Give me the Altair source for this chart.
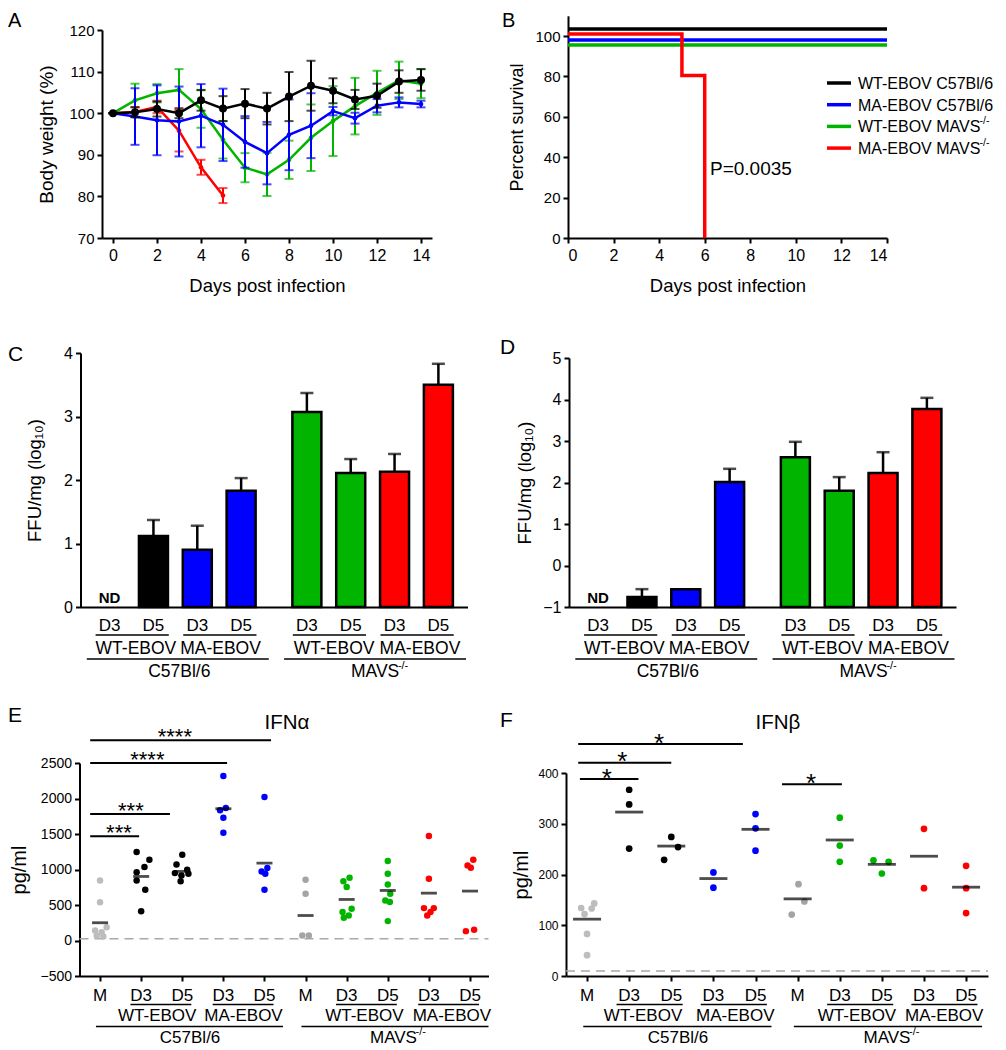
import altair as alt
import pandas as pd

FONT = "Liberation Sans"
W, H = 990, 1038
MARGIN = 8


def P(v):
    return v - MARGIN


BLACK = "#000000"
BLUE = "#0000ff"
GREEN = "#00b400"
RED = "#ff0000"
GRAY_LIGHT = "#bdbdbd"
GRAY_DARK = "#a4a4a4"
DASH_GRAY = "#a8a8a8"

# ---------------- Panel A: body weight ----------------
days = list(range(15))
wt_c57 = [100, 100.2, 101.0, 100.0, 103.1, 101.1, 102.3, 101.1, 104.0, 106.6, 105.4, 103.3, 104.2, 107.6, 108.0]
wt_c57_sem = [0, 1.2, 1.8, 1.2, 2.5, 3.0, 3.5, 3.8, 5.9, 6.0, 3.0, 2.3, 2.9, 2.7, 2.6]
ma_c57 = [100, 99.2, 98.3, 98.0, 99.4, 97.2, 93.1, 90.4, 94.8, 97.0, 100.5, 98.8, 101.8, 102.6, 102.2]
ma_c57_sem = [0, 6.8, 8.4, 8.4, 7.6, 8.7, 6.2, 7.5, 8.5, 7.8, 1.0, 1.3, 1.6, 1.2, 0.8]
wt_mavs = [100, 103.1, 104.8, 105.6, 101.0, 93.6, 86.9, 85.3, 88.8, 94.1, 98.1, 101.7, 104.9, 107.9, 107.1]
wt_mavs_sem = [0, 4.0, 2.2, 5.0, 4.5, 4.5, 3.5, 5.2, 4.6, 8.0, 8.4, 6.8, 5.3, 4.5, 3.5]
ma_mavs_days = [0, 1, 2, 3, 4, 5]
ma_mavs = [100, 100.3, 101.5, 95.8, 87.0, 80.2]
ma_mavs_sem = [0, 1.2, 1.5, 5.0, 1.8, 1.8]

# ---------------- Panel B: survival (curves drawn offset as in figure) ----------------
surv_names = ["WT-EBOV C57Bl/6", "MA-EBOV C57Bl/6", "WT-EBOV MAVS", "MA-EBOV MAVS"]
surv_sup = [False, False, True, True]
surv_colors = [BLACK, BLUE, GREEN, RED]
surv_days = [[0, 14], [0, 14], [0, 14], [0, 5, 6]]
surv_pct = [[103.5, 103.5], [98, 98], [95.5, 95.5], [101, 80.5, 0]]

# ---------------- Panels C & D: FFU/mg ----------------
ffu_ticks = ["D3", "D5", "D3", "D5", "D3", "D5", "D3", "D5"]
ffu_colors = [BLACK, BLACK, BLUE, BLUE, GREEN, GREEN, RED, RED]
ffu_c_mean = [None, 1.12, 0.90, 1.83, 3.07, 2.11, 2.13, 3.50]
ffu_c_sem = [None, 0.25, 0.38, 0.20, 0.30, 0.22, 0.28, 0.33]
ffu_d_mean = [None, -0.76, -0.57, 2.01, 2.61, 1.80, 2.23, 3.77]
ffu_d_sem = [None, 0.19, 0.0, 0.32, 0.37, 0.33, 0.50, 0.27]

# ---------------- Panels E & F: IFN ----------------
ifn_ticks = ["M", "D3", "D5", "D3", "D5", "M", "D3", "D5", "D3", "D5"]
ifn_colors = [GRAY_LIGHT, BLACK, BLACK, BLUE, BLUE, GRAY_DARK, GREEN, GREEN, RED, RED]
E_vals = [
    [846, 540, 141, 188, 118, 70, 56],
    [1245, 1137, 1034, 963, 846, 714, 413],
    [1208, 1071, 996, 949, 940, 916, 836],
    [2317, 1866, 1833, 1730, 1518],
    [2021, 1020, 973, 940, 714],
    [855, 658, 70, 70],
    [884, 836, 752, 447, 400, 352, 320],
    [1119, 940, 790, 658, 564, 541, 273],
    [1471, 870, 456, 456, 400, 352],
    [1137, 1058, 1025, 132, 150],
]
E_jitter = [
    [0, 0, -0.12, 0.16, 0.04, -0.08, 0.08],
    [-0.11, 0.2, 0.08, -0.11, -0.11, 0.1, 0],
    [0, -0.14, 0.12, -0.18, 0.15, -0.02, -0.04],
    [0, 0.06, -0.08, 0, 0],
    [0, 0.07, -0.07, 0.02, 0],
    [0, 0, -0.08, 0.08],
    [0.07, -0.08, 0, 0.12, -0.1, 0.05, -0.07],
    [0, 0, 0, 0.06, -0.06, 0.05, 0],
    [0, 0, -0.12, 0.12, 0.04, -0.04],
    [0.08, -0.06, 0.02, -0.1, 0.1],
]
E_mean = [250, 902, 973, 1856, 1090, 352, 578, 705, 667, 696]
E_limit = 25
E_sig_from = [-0.24, -0.24, -0.24, -0.24]
E_sig_to = [4.16, 3.09, 1.70, 0.95]
E_sig_y = [2820, 2500, 1780, 1470]
E_sig_txt = ["****", "****", "***", "***"]
E_sig_at = [1.82, 1.15, 0.75, 0.46]

F_vals = [
    [134, 122, 133, 143, 83, 41],
    [367, 338, 251],
    [274, 254, 229],
    [204, 174],
    [319, 291, 247],
    [181, 147, 121],
    [312, 257, 225],
    [228, 225, 202],
    [290, 173],
    [217, 173, 124],
]
F_jitter = [
    [-0.14, -0.06, 0.11, 0.17, 0, 0],
    [0, 0, 0], [0, 0.16, -0.17], [0, 0], [0, 0, 0],
    [0.02, 0.16, -0.14], [0, 0, 0], [-0.2, 0.16, 0], [0, 0], [0, 0, 0],
]
F_mean = [112, 323, 256, 192, 289, 152, 268, 220, 236, 175]
F_limit = 10
F_sig_from = [-0.21, -0.21, -0.17, 4.63]
F_sig_to = [3.70, 2.00, 1.22, 6.05]
F_sig_y = [457, 420, 388, 378]
F_sig_txt = ["*", "*", "*", "*"]
F_sig_at = [1.71, 0.84, 0.47, 5.32]


# ---------------- helpers ----------------
def axis(**kw):
    base = dict(grid=False, domainColor=BLACK, domainWidth=2, tickColor=BLACK, tickWidth=2,
                tickSize=5, labelColor=BLACK, labelFont=FONT, titleFont=FONT, titleColor=BLACK,
                titleFontWeight="normal", labelPadding=3)
    base.update(kw)
    return alt.Axis(**base)


def left_axis(xpage, **kw):
    return axis(orient="left", offset=-P(xpage), **kw)


def bottom_axis(ypage, **kw):
    return axis(orient="bottom", offset=P(ypage) - H, **kw)


def lin(domain, r0, r1):
    return alt.Scale(domain=domain, range=[P(r0), P(r1)], nice=False, zero=False)


def encoders(sx, ax, sy, ay):
    def X(f):
        return alt.X(f, type="quantitative", scale=sx, axis=ax)

    def Y(f):
        return alt.Y(f, type="quantitative", scale=sy, axis=ay)
    return X, Y


ONE = pd.DataFrame({"k": [0]})


def label(text, x, y, size, align="center", weight="normal", dx=0, dy=0):
    return alt.Chart(ONE).mark_text(text=text, fontSize=size, align=align, baseline="middle",
                                    fontWeight=weight, color=BLACK, dx=dx, dy=dy).encode(
        x=alt.value(max(P(x), 0)), y=alt.value(P(y) + 1))


MAVS_W = 2834 / 1000.0  # advance width of "MAVS" in em (Arial metrics)


def hier_labels(X, ys, tick_slots, tick_labels, pairs, pext, groups, gext, fs, sub_fs,
                pair_shift, group_shift):
    out = []
    dt = pd.DataFrame({"pos": tick_slots, "lab": tick_labels})
    out.append(alt.Chart(dt).mark_text(fontSize=fs, color=BLACK, baseline="middle").encode(
        x=X("pos"), y=alt.value(P(ys[0]) + 1), text="lab:N"))
    dp = pd.DataFrame({"a": [p[0] + pext[0] for p in pairs], "b": [p[1] + pext[1] for p in pairs],
                       "mid": [(p[0] + p[1]) / 2 + s for p, s in zip(pairs, pair_shift)],
                       "lab": [p[2] for p in pairs]})
    out.append(alt.Chart(dp).mark_rule(color=BLACK, strokeWidth=1.5).encode(
        x=X("a"), x2=alt.X2("b"), y=alt.value(P(ys[1]))))
    out.append(alt.Chart(dp).mark_text(fontSize=sub_fs, color=BLACK, baseline="middle").encode(
        x=X("mid"), y=alt.value(P(ys[2]) + 1), text="lab:N"))
    dg = pd.DataFrame({"a": [g[0] + gext[0] for g in groups], "b": [g[1] + gext[1] for g in groups]})
    out.append(alt.Chart(dg).mark_rule(color=BLACK, strokeWidth=1.5).encode(
        x=X("a"), x2=alt.X2("b"), y=alt.value(P(ys[3]))))
    for (first, last, lab, sup), sh in zip(groups, group_shift):
        dm = pd.DataFrame({"mid": [(first + last) / 2 + sh]})
        if sup:
            w = MAVS_W * sub_fs
            out.append(alt.Chart(dm).mark_text(text=lab, fontSize=sub_fs, baseline="middle", color=BLACK,
                                               dx=-5).encode(x=X("mid"), y=alt.value(P(ys[4]) + 1)))
            out.append(alt.Chart(dm).mark_text(text="-/-", fontSize=11, align="left", baseline="middle",
                                               color=BLACK, dx=-5 + w / 2 - 2, dy=-6).encode(
                x=X("mid"), y=alt.value(P(ys[4]) + 1)))
        else:
            out.append(alt.Chart(dm).mark_text(text=lab, fontSize=sub_fs, baseline="middle", color=BLACK).encode(
                x=X("mid"), y=alt.value(P(ys[4]) + 1)))
    return out


# ---------------- Panel A ----------------
XA, YA = encoders(
    lin([-0.5, 14.5], 102, 432),
    bottom_axis(238, values=list(range(0, 15, 2)), title="Days post infection", labelFontSize=16,
                labelPadding=4, titleFontSize=18.5, titlePadding=13),
    lin([70, 120], 238, 30),
    left_axis(102, values=list(range(70, 121, 10)), title="Body weight (%)", labelFontSize=15,
              titleFontSize=19, titlePadding=12),
)
a_layers = []
for d_, m_, s_, col, sz in [
    (days, wt_mavs, wt_mavs_sem, GREEN, 22),
    (ma_mavs_days, ma_mavs, ma_mavs_sem, RED, 22),
    (days, ma_c57, ma_c57_sem, BLUE, 22),
    (days, wt_c57, wt_c57_sem, BLACK, 64),
]:
    df = pd.DataFrame({"day": d_, "w": m_,
                       "lo": [m - s for m, s in zip(m_, s_)],
                       "hi": [m + s for m, s in zip(m_, s_)]})
    c = alt.Chart(df)
    a_layers += [
        c.mark_rule(color=col, strokeWidth=2).encode(x=XA("day"), y=YA("lo"), y2=alt.Y2("hi")),
        c.mark_tick(color=col, orient="horizontal", size=9, thickness=2).encode(x=XA("day"), y=YA("lo")),
        c.mark_tick(color=col, orient="horizontal", size=9, thickness=2).encode(x=XA("day"), y=YA("hi")),
        c.mark_line(color=col, strokeWidth=2.5).encode(x=XA("day"), y=YA("w")),
        c.mark_point(filled=True, shape="circle", color=col, size=sz, opacity=1).encode(x=XA("day"), y=YA("w")),
    ]
panelA = alt.layer(*a_layers)

# ---------------- Panel B ----------------
XB, YB = encoders(
    lin([0, 14], 568, 887),
    bottom_axis(238, values=list(range(0, 15, 2)), title="Days post infection", labelFontSize=16,
                labelPadding=4, titleFontSize=18.5, titlePadding=13),
    lin([0, 110], 238, 15.8),
    left_axis(568, values=list(range(0, 101, 20)), title="Percent survival", labelFontSize=15,
              titleFontSize=18, titlePadding=8),
)
b_layers = []
for dd, pp, col in zip(surv_days, surv_pct, surv_colors):
    df = pd.DataFrame({"day": dd, "pct": pp})
    b_layers.append(alt.Chart(df).mark_line(interpolate="step-after", color=col, strokeWidth=3.5).encode(
        x=XB("day"), y=YB("pct")))
panelB = alt.layer(*b_layers)

# ---------------- Panels C, D ----------------
slots = [i + (0.5 if i >= 4 else 0) for i in range(8)]
ffu_pairs = [(slots[0], slots[1], "WT-EBOV"), (slots[2], slots[3], "MA-EBOV"),
             (slots[4], slots[5], "WT-EBOV"), (slots[6], slots[7], "MA-EBOV")]
ffu_groups = [(slots[0], slots[3], "C57Bl/6", False), (slots[4], slots[7], "MAVS", True)]


def ffu_panel(means, sems, base, X, Y):
    rows = [dict(slot=s, m=m, hi=m + e, base=base, col=c)
            for s, m, e, c in zip(slots, means, sems, ffu_colors) if m is not None]
    df = pd.DataFrame(rows)
    err = df[df["hi"] > df["m"]]
    layers = [
        alt.Chart(err).mark_rule(color=BLACK, strokeWidth=2.5).encode(x=X("slot"), y=Y("m"), y2=alt.Y2("hi")),
        alt.Chart(err).mark_tick(color=BLACK, orient="horizontal", size=13, thickness=2.5).encode(
            x=X("slot"), y=Y("hi")),
        alt.Chart(df).mark_bar(size=29, stroke=BLACK, strokeWidth=2.5).encode(
            x=X("slot"), y=Y("m"), y2=alt.Y2("base"), color=alt.Color("col:N", scale=None)),
        alt.Chart(pd.DataFrame({"slot": [slots[0]]})).mark_text(
            text="ND", fontWeight="bold", fontSize=15, color=BLACK, baseline="middle").encode(
            x=X("slot"), y=alt.value(P(597) + 1)),
    ]
    layers += hier_labels(X, [625, 635, 648, 659, 671], slots, ffu_ticks, ffu_pairs, (-0.32, 0.35),
                          ffu_groups, (-0.52, 0.63), 17, 17.5,
                          [0.1, 0.03, 0.12, 0.08], [0.09, 0.17])
    return alt.layer(*layers)


XC, YC = encoders(
    lin([-0.55, 8.05], 80.5, 467.5),
    bottom_axis(607, labels=False, ticks=False, title=""),
    lin([0, 4], 607, 353),
    left_axis(80.5, values=[0, 1, 2, 3, 4], title="FFU/mg (log₁₀)", labelFontSize=16,
              titleFontSize=18.5, titlePadding=19),
)
panelC = ffu_panel(ffu_c_mean, ffu_c_sem, 0, XC, YC)

XD, YD = encoders(
    lin([-0.55, 8.05], 569, 956),
    bottom_axis(607, labels=False, ticks=False, title=""),
    lin([-1, 5], 607, 358),
    left_axis(569, values=[-1, 0, 1, 2, 3, 4, 5], title="FFU/mg (log₁₀)", labelFontSize=16,
              titleFontSize=18.5, titlePadding=8),
)
panelD = ffu_panel(ffu_d_mean, ffu_d_sem, -1, XD, YD)

# ---------------- Panels E, F ----------------
ifn_slots = list(range(10))
ifn_pairs = [(1, 2, "WT-EBOV"), (3, 4, "MA-EBOV"), (6, 7, "WT-EBOV"), (8, 9, "MA-EBOV")]
ifn_groups = [(0, 4, "C57Bl/6", False), (5, 9, "MAVS", True)]
IFN_ROWS = [995, 1004.5, 1015, 1026.5, 1036.5]


def ifn_panel(vals, jit, means, limit, dom, sig, X, Y, pt_size, mean_w, star_fs, star_dy, pext, gext,
              pair_shift, group_shift):
    rows = []
    for g, (vs, js) in enumerate(zip(vals, jit)):
        for v, j in zip(vs, js):
            rows.append(dict(x=g + j, v=v, col=ifn_colors[g]))
    pts = pd.DataFrame(rows)
    mdf = pd.DataFrame({"slot": ifn_slots, "m": means})
    dash = pd.DataFrame({"a": [dom[0]], "b": [dom[1]], "y": [limit]})
    sf, st, sy, stxt, sat = sig
    sdf = pd.DataFrame({"a": sf, "b": st, "y": sy, "txt": stxt, "at": sat})
    layers = [
        alt.Chart(dash).mark_rule(color=DASH_GRAY, strokeWidth=1.5, strokeDash=[9, 6]).encode(
            x=X("a"), x2=alt.X2("b"), y=Y("y")),
        alt.Chart(pts).mark_circle(size=pt_size, opacity=1).encode(
            x=X("x"), y=Y("v"), color=alt.Color("col:N", scale=None)),
        alt.Chart(mdf).mark_tick(color=BLACK, orient="horizontal", size=mean_w, thickness=2.8).encode(
            x=X("slot"), y=Y("m")),
        alt.Chart(sdf).mark_rule(color=BLACK, strokeWidth=2).encode(x=X("a"), x2=alt.X2("b"), y=Y("y")),
        alt.Chart(sdf).mark_text(fontSize=star_fs, color=BLACK, baseline="alphabetic", dy=star_dy).encode(
            x=X("at"), y=Y("y"), text="txt:N"),
    ]
    layers += hier_labels(X, IFN_ROWS, ifn_slots, ifn_ticks, ifn_pairs, pext,
                          ifn_groups, gext, 17, 17, pair_shift, group_shift)
    return alt.layer(*layers)


E_dom = [-0.5, 9.45]
XE, YE = encoders(
    lin(E_dom, 79.5, 488.5),
    bottom_axis(976, values=ifn_slots, labels=False, title=""),
    lin([-500, 2500], 976, 763),
    left_axis(79.5, values=list(range(-500, 2501, 500)), format="d", title="pg/ml", labelFontSize=14,
              titleFontSize=20, titlePadding=10),
)
panelE = ifn_panel(E_vals, E_jitter, E_mean, E_limit, E_dom,
                   (E_sig_from, E_sig_to, E_sig_y, E_sig_txt, E_sig_at), XE, YE,
                   42, 16, 22, 3.5, (-0.26, 0.22), (-0.1, 0.45),
                   [-0.11, -0.01, -0.07, 0.06], [0.19, 0.26])

F_dom = [-0.5, 9.52]
XF, YF = encoders(
    lin(F_dom, 566, 988),
    bottom_axis(976, values=ifn_slots, labels=False, title=""),
    lin([0, 400], 976, 773),
    left_axis(566, values=list(range(0, 401, 100)), format="d", title="pg/ml", labelFontSize=12,
              titleFontSize=20, titlePadding=6),
)
panelF = ifn_panel(F_vals, F_jitter, F_mean, F_limit, F_dom,
                   (F_sig_from, F_sig_to, F_sig_y, F_sig_txt, F_sig_at), XF, YF,
                   45, 28, 26, 7.5, (-0.3, 0.27), (-0.09, 0.38),
                   [-0.17, 0.02, -0.09, -0.02], [0.16, 0.24])

# ---------------- annotations: panel letters, titles, legend ----------------
ann = [
    label("A", 1, 20, 20, align="left"),
    label("B", 502, 20, 20, align="left"),
    label("C", 2, 354, 21, align="left"),
    label("D", 500, 347, 21, align="left"),
    label("E", 0, 715, 21, align="left"),
    label("F", 500, 720, 21, align="left"),
    label("IFNα", 287, 722, 20.5),
    label("IFNβ", 778, 722, 20.5),
    label("P=0.0035", 710, 168, 19, align="left"),
]
for i, (name, sup, col) in enumerate(zip(surv_names, surv_sup, surv_colors)):
    yy = 83 + 21.7 * i
    ann.append(alt.Chart(ONE).mark_rule(color=col, strokeWidth=3.5).encode(
        x=alt.value(P(827)), x2=alt.value(P(851)), y=alt.value(P(yy))))
    ann.append(label(name, 858, yy, 16, align="left"))
    if sup:
        ann.append(label("-/-", 858, yy, 10.5, align="left", dx=7779 / 1000.0 * 16 - 3, dy=-6))

chart = (
    alt.layer(panelA, panelB, panelC, panelD, panelE, panelF, *ann)
    .resolve_scale(x="independent", y="independent")
    .resolve_axis(x="independent", y="independent")
    .properties(width=W, height=H, autosize=alt.AutoSizeParams(type="none"), padding=0)
    .configure(font=FONT)
    .configure_view(strokeWidth=0)
)

chart.save("out.html", embed_options={"renderer": "svg", "actions": False})
